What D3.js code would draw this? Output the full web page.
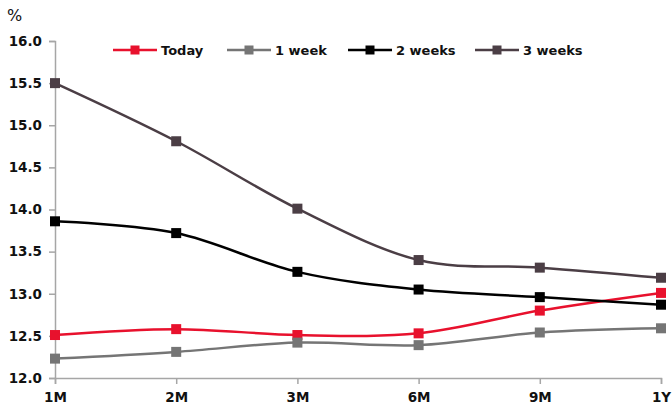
<!DOCTYPE html>
<html>
<head>
<meta charset="utf-8">
<script src="https://cdn.jsdelivr.net/npm/d3@7"></script>
<style>
  html, body { margin: 0; padding: 0; background: #fff; }
  svg { display: block; font-family: "DejaVu Sans", Verdana, sans-serif; font-weight: bold; }
</style>
</head>
<body>
<svg id="chart" width="672" height="408"></svg>
<script>
// Tenors along the curve
const tenors = ["1M", "2M", "3M", "6M", "9M", "1Y"];

// Implied yields (%) at each snapshot
const today    = [12.51, 12.58, 12.51, 12.53, 12.80, 13.01];
const oneWeek  = [12.23, 12.31, 12.42, 12.39, 12.54, 12.59];
const twoWeeks = [13.86, 13.72, 13.26, 13.05, 12.96, 12.87];
const threeWeeks = [15.50, 14.81, 14.01, 13.40, 13.31, 13.19];

const seriesNames = ["Today", "1 week", "2 weeks", "3 weeks"];
const yTicks = [12.0, 12.5, 13.0, 13.5, 14.0, 14.5, 15.0, 15.5, 16.0];

const series = [
  { name: seriesNames[0], values: today,      color: "#e8112d" },
  { name: seriesNames[1], values: oneWeek,    color: "#757575" },
  { name: seriesNames[2], values: twoWeeks,   color: "#000000" },
  { name: seriesNames[3], values: threeWeeks, color: "#4b3e45" }
];

const svg = d3.select("#chart");
const plotLeft = 55, plotRight = 661, plotTop = 41, plotBottom = 378;

const x = d3.scalePoint().domain(tenors).range([plotLeft, plotRight]);
const y = d3.scaleLinear().domain([12, 16]).range([plotBottom, plotTop]);

const axisColor = "#a6a6a6";
const labelFont = "'DejaVu Sans', Verdana, sans-serif";

// Y axis
const yAxis = svg.append("g")
  .attr("transform", `translate(${plotLeft},0)`)
  .call(d3.axisLeft(y).tickValues(yTicks).tickFormat(d3.format(".1f")).tickSizeOuter(0).tickSize(6).tickPadding(7));
yAxis.select(".domain").attr("stroke", axisColor).attr("stroke-width", 1.5);
yAxis.selectAll(".tick line").attr("stroke", axisColor).attr("stroke-width", 1.5);
yAxis.selectAll(".tick text").attr("fill", "#111").style("font-size", "13.5px").style("font-weight", "bold")
  .style("font-family", labelFont);

// X axis
const xAxis = svg.append("g")
  .attr("transform", `translate(0,${plotBottom})`)
  .call(d3.axisBottom(x).tickSizeOuter(0).tickSize(6).tickPadding(8));
xAxis.select(".domain").attr("stroke", axisColor).attr("stroke-width", 1.5);
xAxis.selectAll(".tick line").attr("stroke", axisColor).attr("stroke-width", 1.5);
xAxis.selectAll(".tick text").attr("fill", "#111").style("font-size", "13.5px").style("font-weight", "bold")
  .style("font-family", labelFont);

// Unit label
svg.append("text").attr("x", 7).attr("y", 21).attr("fill", "#111")
  .style("font-size", "16px").style("font-weight", "normal").text("%");

// Smoothed lines with square markers
const line = d3.line()
  .x((d, i) => x(tenors[i]))
  .y(d => y(d))
  .curve(d3.curveCatmullRom.alpha(0));

series.forEach(s => {
  svg.append("path")
    .datum(s.values)
    .attr("d", line)
    .attr("fill", "none")
    .attr("stroke", s.color)
    .attr("stroke-width", 2.5);
});

const m = 10;
series.forEach(s => {
  svg.append("g").selectAll("rect")
    .data(s.values)
    .join("rect")
    .attr("x", (d, i) => x(tenors[i]) - m / 2)
    .attr("y", d => y(d) - m / 2)
    .attr("width", m)
    .attr("height", m)
    .attr("fill", s.color);
});

// Legend
const legendX = [113, 227, 348, 475];
const legendY = 50;
series.forEach((s, i) => {
  const g = svg.append("g").attr("transform", `translate(${legendX[i]},${legendY})`);
  g.append("line").attr("x1", 0).attr("x2", 44).attr("y1", 0).attr("y2", 0)
    .attr("stroke", s.color).attr("stroke-width", 2.5);
  g.append("rect").attr("x", 22 - 4.5).attr("y", -4.5).attr("width", 9).attr("height", 9).attr("fill", s.color);
  g.append("text").attr("x", 48).attr("y", 5).attr("fill", "#111")
    .style("font-size", "13px").text(s.name);
});
</script>
</body>
</html>
